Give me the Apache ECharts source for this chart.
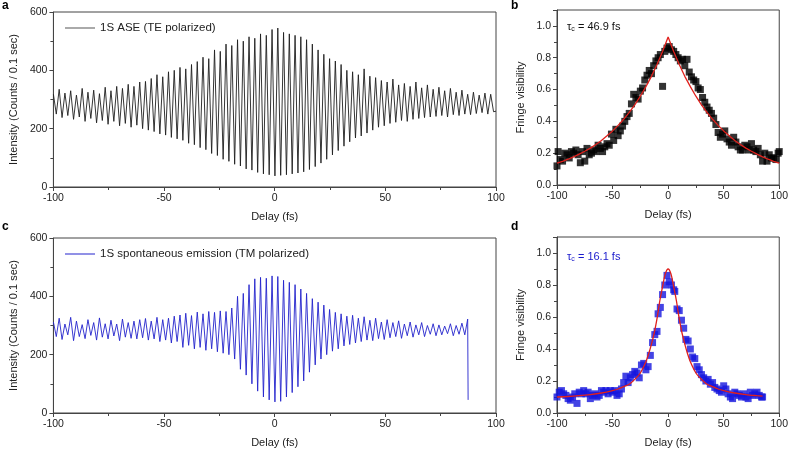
<!DOCTYPE html>
<html>
<head>
<meta charset="utf-8">
<script src="https://cdn.jsdelivr.net/npm/echarts@6/dist/echarts.min.js"></script>
<style>
  html, body { margin: 0; padding: 0; background: #fff; }
  #chart { width: 791px; height: 450px; }
</style>
</head>
<body>
<div id="chart"></div>
<script>
// fringe grid (fs): one maximum and one minimum per fringe
var fringeStart = -100;
var fringeStep = 2.6;

// panel a - 1S ASE (TE polarized), fringe maxima / minima (counts)
var aPeaks = [318, 335, 322, 330, 315, 338, 325, 332, 320, 342, 330, 345, 338, 352, 345, 360,
  362, 372, 385, 378, 395, 400, 410, 405, 420, 430, 445, 440, 470, 465, 490, 485,
  505, 500, 515, 510, 525, 520, 540, 545, 530, 525, 520, 515, 505, 490, 470, 455,
  440, 432, 420, 400, 395, 385, 405, 380, 375, 365, 360, 370, 350, 355, 345, 360,
  340, 350, 335, 342, 330, 338, 325, 332, 318, 325, 315, 322, 318];
var aDips = [250, 238, 245, 232, 240, 225, 235, 220, 228, 215, 225, 210, 218, 205, 212, 200,
  195, 190, 182, 178, 170, 165, 160, 150, 145, 135, 128, 115, 108, 95, 88, 78,
  72, 62, 58, 50, 45, 42, 38, 40, 42, 45, 48, 52, 60, 70, 82, 95,
  110, 125, 140, 155, 168, 175, 185, 195, 205, 210, 218, 222, 228, 225, 232, 235,
  238, 240, 242, 245, 240, 248, 245, 250, 248, 252, 255, 250, 258];
var aEnd = [[100, 260]];

// panel c - 1S spontaneous emission (TM polarized)
var cPeaks = [312, 325, 305, 328, 315, 303, 320, 310, 326, 306, 318, 305, 322, 310, 315, 320,
  324, 315, 328, 320, 325, 332, 336, 342, 334, 346, 340, 348, 345, 350, 348, 360,
  400, 410, 440, 460, 465, 462, 470, 468, 455, 448, 440, 425, 410, 392, 380, 370,
  355, 345, 340, 332, 335, 325, 330, 318, 325, 312, 320, 310, 316, 305, 312, 302,
  310, 300, 306, 302, 298, 306, 300, 308, 322];
var cDips = [262, 252, 268, 248, 262, 255, 266, 250, 260, 254, 264, 248, 260, 256, 254, 258,
  250, 254, 245, 250, 240, 245, 225, 232, 220, 225, 215, 220, 210, 205, 200, 185,
  150, 130, 100, 75, 55, 45, 38, 40, 55, 70, 90, 110, 140, 165, 185, 200,
  212, 220, 230, 235, 240, 245, 250, 248, 255, 252, 258, 262, 256, 265, 260, 268,
  262, 270, 265, 268, 272, 265, 270, 268];
var cEnd = [[87.4, 45]];

// panel b - fringe visibility, TE
var bDelay = [-100, -99, -97, -95, -93, -91, -89, -87, -85, -83, -81, -79, -77, -75, -73, -71,
  -69, -67, -65, -63, -61, -59, -57, -55, -53, -51, -49, -47, -45, -43, -41, -39,
  -37, -35, -33, -31, -29, -27, -25, -23, -21, -19, -17, -15, -13, -11, -9, -7,
  -5, -3, -1, 1, 3, 5, 7, 9, 11, 13, 15, 17, 19, 21, 23, 25,
  27, 29, 31, 33, 35, 37, 39, 41, 43, 45, 47, 49, 51, 53, 55, 57,
  59, 61, 63, 65, 67, 69, 71, 73, 75, 77, 79, 81, 83, 85, 87, 89,
  91, 93, 95, 97, 99, 100];
var bVis = [0.12, 0.21, 0.16, 0.15, 0.20, 0.19, 0.17, 0.21, 0.20, 0.22, 0.19, 0.14, 0.21, 0.15, 0.23, 0.19,
  0.20, 0.22, 0.21, 0.25, 0.23, 0.21, 0.24, 0.26, 0.25, 0.32, 0.28, 0.35, 0.31, 0.34, 0.37, 0.40,
  0.43, 0.45, 0.51, 0.57, 0.55, 0.54, 0.59, 0.61, 0.66, 0.69, 0.72, 0.70, 0.75, 0.78, 0.80, 0.82,
  0.62, 0.84, 0.86, 0.87, 0.85, 0.84, 0.82, 0.80, 0.78, 0.79, 0.75, 0.79, 0.71, 0.68, 0.66, 0.65,
  0.61, 0.60, 0.55, 0.52, 0.49, 0.47, 0.45, 0.42, 0.38, 0.33, 0.30, 0.32, 0.34, 0.29, 0.27, 0.25,
  0.30, 0.27, 0.24, 0.22, 0.22, 0.25, 0.24, 0.22, 0.26, 0.22, 0.21, 0.23, 0.19, 0.15, 0.20, 0.15,
  0.19, 0.17, 0.17, 0.16, 0.20, 0.21];
var bFitDelay = [-100, -95, -90, -85, -80, -75, -70, -65, -60, -55, -50, -45, -40, -35, -30, -25, -20, -15, -10, -5, 0,
  5, 10, 15, 20, 25, 30, 35, 40, 45, 50, 55, 60, 65, 70, 75, 80, 85, 90, 95, 100];
var bFit = [0.137, 0.149, 0.162, 0.177, 0.194, 0.212, 0.232, 0.255, 0.280, 0.309, 0.340, 0.375, 0.413, 0.457, 0.504, 0.558, 0.618, 0.683, 0.757, 0.839, 0.930,
  0.839, 0.757, 0.683, 0.618, 0.558, 0.504, 0.457, 0.413, 0.375, 0.340, 0.309, 0.280, 0.255, 0.232, 0.212, 0.194, 0.177, 0.162, 0.149, 0.137];

// panel d - fringe visibility, TM
var dDelay = [-100, -98, -96, -94, -92, -90, -88, -86, -84, -82, -80, -78, -76, -74, -72, -70,
  -68, -66, -64, -62, -60, -58, -56, -54, -52, -50, -48, -46, -44, -42, -40, -38,
  -36, -34, -32, -30, -28, -26, -24, -22, -20, -18, -16, -14, -12, -10, -9, -7,
  -5, -3, -1, 1, 3, 5, 6, 8, 10, 12, 14, 16, 18, 20, 22, 24,
  26, 28, 30, 32, 34, 36, 38, 40, 42, 44, 46, 48, 50, 52, 54, 56,
  58, 60, 62, 64, 66, 68, 70, 72, 74, 76, 78, 80, 82, 84, 85];
var dVis = [0.10, 0.13, 0.14, 0.12, 0.11, 0.09, 0.08, 0.10, 0.12, 0.06, 0.13, 0.12, 0.14, 0.12, 0.13, 0.09,
  0.11, 0.12, 0.10, 0.11, 0.14, 0.13, 0.14, 0.12, 0.14, 0.13, 0.14, 0.11, 0.12, 0.15, 0.19, 0.23,
  0.19, 0.22, 0.24, 0.26, 0.25, 0.22, 0.30, 0.31, 0.27, 0.29, 0.36, 0.44, 0.49, 0.51, 0.62, 0.66,
  0.74, 0.80, 0.86, 0.82, 0.80, 0.77, 0.76, 0.65, 0.64, 0.58, 0.53, 0.46, 0.45, 0.40, 0.35, 0.34,
  0.29, 0.27, 0.24, 0.22, 0.20, 0.21, 0.18, 0.19, 0.16, 0.15, 0.14, 0.13, 0.17, 0.15, 0.12, 0.10,
  0.09, 0.13, 0.12, 0.11, 0.10, 0.12, 0.10, 0.09, 0.13, 0.11, 0.12, 0.13, 0.11, 0.10, 0.10];
var dFitDelay = [-100, -90, -80, -70, -60, -50, -45, -40, -35, -30, -25, -20, -17.5, -15, -12.5, -10, -7.5, -5, -2.5, 0,
  2.5, 5, 7.5, 10, 12.5, 15, 17.5, 20, 25, 30, 35, 40, 45, 50, 60, 70, 80, 85];
var dFit = [0.100, 0.103, 0.108, 0.115, 0.125, 0.140, 0.150, 0.165, 0.180, 0.210, 0.250, 0.320, 0.370, 0.430, 0.500, 0.590, 0.700, 0.790, 0.870, 0.900,
  0.870, 0.790, 0.700, 0.590, 0.500, 0.430, 0.370, 0.320, 0.250, 0.210, 0.180, 0.165, 0.150, 0.140, 0.125, 0.115, 0.108, 0.105];

var xTicks = { min: -100, max: 100, interval: 50 };
var intensityTicks = { min: 0, max: 600, interval: 200 };
var visTicks = { min: 0, max: 1.1, interval: 0.2 };

function zigzag (peaks, dips, tail) {
  var out = [];
  for (var i = 0; i < peaks.length; i++) {
    var t = fringeStart + i * fringeStep;
    out.push([t, peaks[i]]);
    if (i < dips.length) out.push([t + fringeStep / 2, dips[i]]);
  }
  return out.concat(tail);
}

function pairs (xs, ys) {
  return xs.map(function (x, i) { return [x, ys[i]]; });
}

var font = 'Liberation Sans, Arial, sans-serif';
var axisColor = '#444';

function xAxis (gridIndex) {
  return {
    type: 'value', gridIndex: gridIndex,
    min: xTicks.min, max: xTicks.max, interval: xTicks.interval,
    name: 'Delay (fs)', nameLocation: 'middle', nameGap: 24,
    nameTextStyle: { fontFamily: font, fontSize: 11, color: '#222' },
    axisLine: { show: true, onZero: false, lineStyle: { color: axisColor, width: 1 } },
    axisTick: { show: true, length: 4, lineStyle: { color: axisColor } },
    minorTick: { show: true, splitNumber: 2, length: 3, lineStyle: { color: axisColor } },
    axisLabel: { fontFamily: font, fontSize: 10.5, color: '#222', margin: 6 },
    splitLine: { show: false }
  };
}

function yAxis (gridIndex, ticks, name, nameGap, fmt) {
  return {
    type: 'value', gridIndex: gridIndex,
    min: ticks.min, max: ticks.max, interval: ticks.interval,
    name: name, nameLocation: 'middle', nameGap: nameGap,
    nameTextStyle: { fontFamily: font, fontSize: 11, color: '#222' },
    axisLine: { show: true, onZero: false, lineStyle: { color: axisColor, width: 1 } },
    axisTick: { show: true, length: 4, lineStyle: { color: axisColor } },
    minorTick: { show: true, splitNumber: 2, length: 3, lineStyle: { color: axisColor } },
    axisLabel: { fontFamily: font, fontSize: 10.5, color: '#222', margin: 6, showMaxLabel: ticks.max === 600, formatter: fmt },
    splitLine: { show: false }
  };
}

function legend (name, top, color) {
  return {
    data: [{ name: name, icon: 'rect', itemStyle: { color: color } }],
    left: 65, top: top, padding: 0,
    itemWidth: 30, itemHeight: 1, itemGap: 4,
    textStyle: { fontFamily: font, fontSize: 11.5, color: '#222', padding: [0, 0, 0, 0] }
  };
}

var gridBox = { show: true, borderColor: axisColor, borderWidth: 1, backgroundColor: 'transparent' };

var chart = echarts.init(document.getElementById('chart'), null, { renderer: 'canvas' });

var option = {
  animation: false,
  backgroundColor: '#fff',
  grid: [
    Object.assign({ left: 47, top: 12, width: 449, height: 175 }, gridBox),
    Object.assign({ left: 557, top: 10, width: 226, height: 175 }, gridBox),
    Object.assign({ left: 47, top: 238, width: 449, height: 175 }, gridBox),
    Object.assign({ left: 557, top: 237, width: 226, height: 176 }, gridBox)
  ],
  xAxis: [xAxis(0), xAxis(1), xAxis(2), xAxis(3)],
  yAxis: [
    yAxis(0, intensityTicks, 'Intensity (Counts / 0.1 sec)', 30),
    yAxis(1, visTicks, 'Fringe visibility', 31, function (v) { return v.toFixed(1); }),
    yAxis(2, intensityTicks, 'Intensity (Counts / 0.1 sec)', 30),
    yAxis(3, visTicks, 'Fringe visibility', 31, function (v) { return v.toFixed(1); })
  ],
  legend: [
    legend('1S ASE (TE polarized)', 22, '#555'),
    legend('1S spontaneous emission (TM polarized)', 248, '#2222cc')
  ],
  graphic: [
    { type: 'text', left: 2, top: 0, style: { text: 'a', font: 'bold 12px ' + font, fill: '#000' } },
    { type: 'text', left: 511, top: 0, style: { text: 'b', font: 'bold 12px ' + font, fill: '#000' } },
    { type: 'text', left: 2, top: 221, style: { text: 'c', font: 'bold 12px ' + font, fill: '#000' } },
    { type: 'text', left: 511, top: 221, style: { text: 'd', font: 'bold 12px ' + font, fill: '#000' } },
    {
      type: 'text', left: 567, top: 21,
      style: {
        text: '{t|τ}{s|c}{t| = 46.9 fs}',
        rich: {
          t: { fontFamily: font, fontSize: 11, fill: '#111', color: '#111' },
          s: { fontFamily: font, fontSize: 7, fill: '#111', color: '#111', padding: [6, 0, 0, 0] }
        }
      }
    },
    {
      type: 'text', left: 567, top: 251,
      style: {
        text: '{t|τ}{s|c}{t| = 16.1 fs}',
        rich: {
          t: { fontFamily: font, fontSize: 11, fill: '#1a1acc', color: '#1a1acc' },
          s: { fontFamily: font, fontSize: 7, fill: '#1a1acc', color: '#1a1acc', padding: [6, 0, 0, 0] }
        }
      }
    }
  ],
  series: [
    {
      name: '1S ASE (TE polarized)', type: 'line', xAxisIndex: 0, yAxisIndex: 0,
      data: zigzag(aPeaks, aDips, aEnd), symbol: 'none',
      lineStyle: { color: '#1e1e1e', width: 0.9 }, itemStyle: { color: '#1e1e1e' }
    },
    {
      type: 'scatter', xAxisIndex: 1, yAxisIndex: 1,
      data: pairs(bDelay, bVis), symbol: 'rect', symbolSize: 7,
      itemStyle: { color: '#000' }
    },
    {
      type: 'line', xAxisIndex: 1, yAxisIndex: 1,
      data: pairs(bFitDelay, bFit), symbol: 'none',
      lineStyle: { color: '#e0201c', width: 1.3 }
    },
    {
      name: '1S spontaneous emission (TM polarized)', type: 'line', xAxisIndex: 2, yAxisIndex: 2,
      data: zigzag(cPeaks, cDips, cEnd), symbol: 'none',
      lineStyle: { color: '#2222cc', width: 0.9 }, itemStyle: { color: '#2222cc' }
    },
    {
      type: 'scatter', xAxisIndex: 3, yAxisIndex: 3,
      data: pairs(dDelay, dVis), symbol: 'rect', symbolSize: 7,
      itemStyle: { color: '#1515dd' }
    },
    {
      type: 'line', xAxisIndex: 3, yAxisIndex: 3,
      data: pairs(dFitDelay, dFit), symbol: 'none', smooth: 0.3,
      lineStyle: { color: '#e0201c', width: 1.3 }
    }
  ]
};

chart.setOption(option);
</script>
</body>
</html>
